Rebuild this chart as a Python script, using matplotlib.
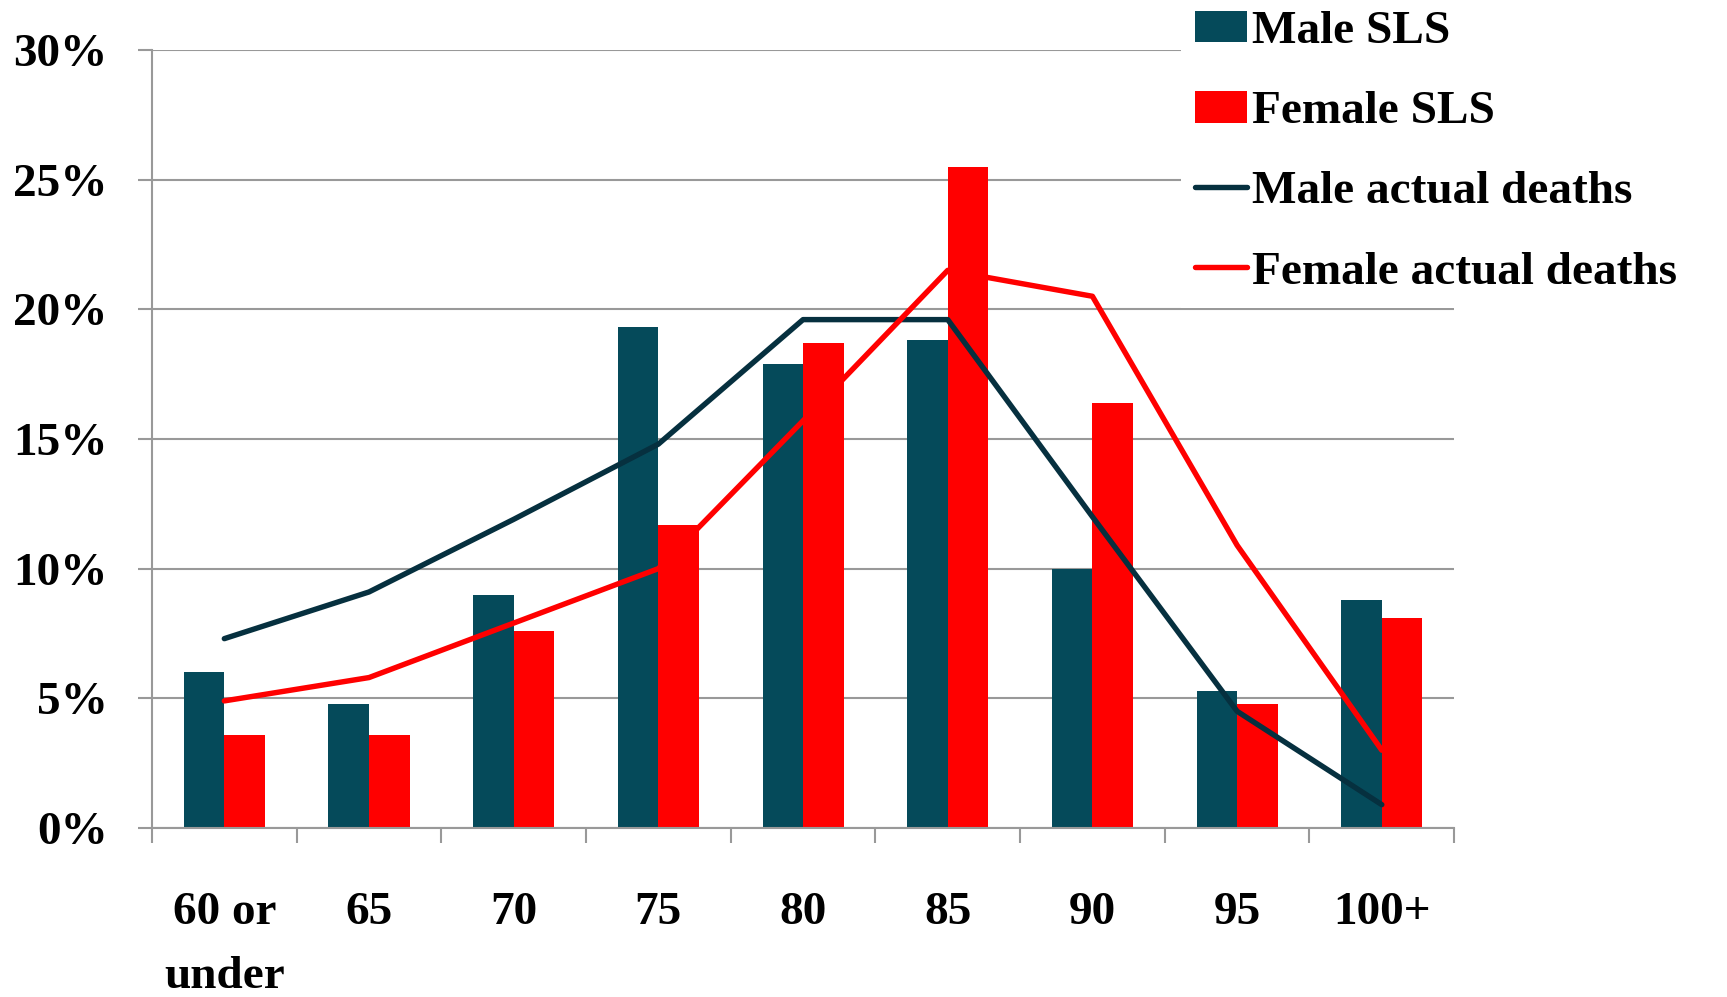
import matplotlib
matplotlib.use("Agg")
import matplotlib.pyplot as plt
import numpy as np
from matplotlib.ticker import FixedLocator, PercentFormatter

categories = ["60 or\nunder", "65", "70", "75", "80", "85", "90", "95", "100+"]
male_sls = [6.0, 4.8, 9.0, 19.3, 17.9, 18.8, 10.0, 5.3, 8.8]
female_sls = [3.6, 3.6, 7.6, 11.7, 18.7, 25.5, 16.4, 4.8, 8.1]
male_actual = [7.3, 9.1, 11.9, 14.8, 19.6, 19.6, 12.0, 4.5, 0.9]
female_actual = [4.9, 5.8, 7.9, 10.0, 15.7, 21.5, 20.5, 10.9, 3.0]
y_ticks = [0, 5, 10, 15, 20, 25, 30]

plt.rcParams['font.family'] = ['Liberation Serif', 'DejaVu Serif']
plt.rcParams['font.weight'] = 'bold'

C_MALE_BAR = "#054a5a"
C_MALE_LINE = "#06303f"
C_RED = "#ff0000"
GRID = "#999999"
FS = 34

fig = plt.figure(figsize=(17.27, 9.97), dpi=100)
ax = fig.add_axes([0.088, 0.1695, 0.842 - 0.088, 0.950 - 0.1695])

x = np.arange(len(categories))
w = 0.28
b1 = ax.bar(x - w / 2, male_sls, width=w, color=C_MALE_BAR, label="Male SLS", zorder=2)
b2 = ax.bar(x + w / 2, female_sls, width=w, color=C_RED, label="Female SLS", zorder=2)
l1, = ax.plot(x, male_actual, color=C_MALE_LINE, lw=3.9, label="Male actual deaths", zorder=3,
              solid_capstyle='round')
l2, = ax.plot(x, female_actual, color=C_RED, lw=3.9, label="Female actual deaths", zorder=3,
              solid_capstyle='round')

ax.set_xlim(-0.5, len(categories) - 0.5)
ax.set_ylim(0, 30)
ax.set_yticks(y_ticks)
ax.yaxis.set_major_formatter(PercentFormatter(decimals=0))
ax.yaxis.grid(True, color=GRID, lw=1.5, zorder=0)
ax.set_axisbelow(True)

ax.set_xticks(x)
ax.set_xticklabels(categories, linespacing=1.68)
ax.xaxis.set_minor_locator(FixedLocator(np.arange(-0.5, len(categories), 1.0)))
ax.tick_params(axis='x', which='major', length=0, pad=46, labelsize=FS)
ax.tick_params(axis='x', which='minor', length=11, width=1.5, color=GRID, direction='out')
ax.tick_params(axis='y', length=10, width=1.5, color=GRID, pad=22, labelsize=FS)
for lab in ax.get_xticklabels() + ax.get_yticklabels():
    lab.set_fontweight('bold')

for s in ['top', 'right']:
    ax.spines[s].set_visible(False)
for s in ['left', 'bottom']:
    ax.spines[s].set_color(GRID)
    ax.spines[s].set_linewidth(1.5)

leg = fig.legend([b1, b2, l1, l2], [b1.get_label(), b2.get_label(), l1.get_label(), l2.get_label()],
                 loc='upper left', bbox_to_anchor=(1157 / 1727, 1.027),
                 frameon=True, fancybox=False, edgecolor='none', facecolor='white',
                 framealpha=1, handlelength=1.1, handleheight=0.65,
                 handletextpad=0.12, labelspacing=0.8, borderpad=0.3,
                 prop={'weight': 'bold', 'size': FS})

fig.savefig("out.png", dpi=100)
